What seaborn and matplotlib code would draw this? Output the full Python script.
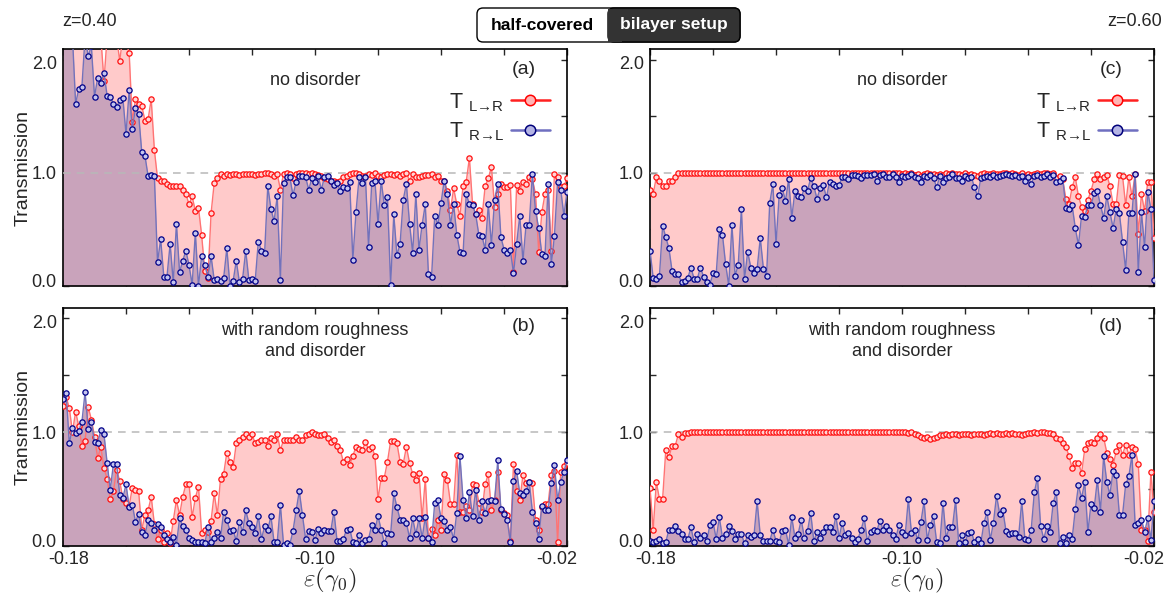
import numpy as np
import matplotlib
matplotlib.use('Agg')
import matplotlib.pyplot as plt
import seaborn as sns
from matplotlib.lines import Line2D
from matplotlib.patches import FancyBboxPatch, Rectangle
from matplotlib.transforms import IdentityTransform, ScaledTranslation

# energy grid, eps in units of gamma0 (161 points from -0.18 to -0.02)
eps = np.linspace(-0.18, -0.02, 161)

# panel (a): z=0.40, no disorder
t_lr_a = [
    2.30, 2.40, 2.30, 2.25, 2.30, 2.35, 2.30, 2.30, 2.40, 2.30,
    2.30, 2.25, 2.20, 1.81, 2.20, 2.30, 2.25, 2.20, 1.99, 2.20,
    2.15, 2.06, 1.45, 1.65, 1.61, 1.59, 1.46, 1.47, 1.65, 1.20,
    0.95, 0.93, 0.93, 0.90, 0.88, 0.88, 0.88, 0.88, 0.85, 0.81,
    0.72, 0.79, 0.66, 0.69, 0.45, 0.13, 0.07, 0.64, 0.91, 0.95,
    0.99, 0.97, 0.99, 0.98, 0.99, 0.99, 0.98, 0.99, 0.99, 0.99,
    0.99, 0.98, 0.99, 0.99, 1.00, 1.00, 0.99, 0.97, 0.99, 0.85,
    0.99, 1.00, 0.99, 0.95, 0.99, 1.00, 1.00, 1.00, 0.99, 1.00,
    0.99, 0.98, 0.97, 0.95, 0.94, 0.93, 0.93, 0.92, 0.93, 0.96,
    0.97, 0.99, 1.00, 1.00, 0.99, 0.97, 0.97, 0.99, 0.98, 1.00,
    0.97, 0.96, 0.98, 0.99, 0.99, 0.98, 0.99, 0.97, 0.99, 1.00,
    0.93, 0.99, 0.96, 0.96, 0.97, 0.98, 0.98, 0.99, 0.96, 0.97,
    0.93, 0.93, 0.84, 0.67, 0.86, 0.72, 0.62, 0.88, 0.92, 1.13,
    0.72, 0.63, 0.67, 0.60, 0.88, 0.95, 1.05, 0.70, 0.81, 0.90,
    0.87, 0.87, 0.89, 0.12, 0.89, 0.84, 0.92, 0.90, 0.96, 0.94,
    0.81, 0.30, 0.65, 0.81, 0.85, 0.31, 0.99, 0.96, 0.87, 0.88,
    0.95]
t_rl_a = [
    2.20, 2.30, 2.15, 2.20, 1.61, 1.74, 1.76, 2.20, 2.03, 2.12,
    1.67, 1.84, 1.79, 1.88, 1.68, 1.67, 1.61, 1.58, 1.64, 1.66,
    1.34, 1.73, 1.39, 1.57, 1.52, 1.18, 1.15, 0.97, 0.98, 0.97,
    0.21, 0.41, 0.08, 0.08, 0.37, 0.03, 0.55, 0.12, 0.22, 0.31,
    0.18, 0.01, 0.47, 0.00, 0.26, 0.18, 0.08, 0.26, 0.05, 0.06,
    0.04, 0.07, 0.33, 0.00, 0.04, 0.22, 0.03, 0.06, 0.31, 0.05,
    0.06, 0.04, 0.39, 0.31, 0.29, 0.88, 0.68, 0.57, 0.79, 0.05,
    0.91, 0.96, 0.96, 0.80, 0.92, 0.97, 0.97, 0.96, 0.85, 0.95,
    0.92, 0.97, 0.85, 0.96, 0.97, 0.93, 0.89, 0.91, 0.84, 0.87,
    0.86, 0.92, 0.23, 0.65, 0.96, 0.91, 0.96, 0.34, 0.91, 0.93,
    0.55, 0.93, 0.71, 0.78, 0.01, 0.63, 0.27, 0.37, 0.76, 0.90,
    0.55, 0.29, 0.81, 0.32, 0.54, 0.72, 0.10, 0.08, 0.62, 0.54,
    0.73, 0.93, 0.81, 0.54, 0.72, 0.45, 0.30, 0.29, 0.81, 0.72,
    0.71, 0.63, 0.45, 0.44, 0.32, 0.72, 0.36, 0.76, 0.90, 0.43,
    0.32, 0.29, 0.32, 0.11, 0.37, 0.62, 0.22, 0.54, 0.54, 0.99,
    0.66, 0.51, 0.28, 0.26, 0.90, 0.19, 0.44, 0.92, 0.85, 0.62,
    0.83]

# panel (b): z=0.40, roughness and disorder
t_lr_b = [
    1.23, 1.31, 1.21, 1.00, 1.18, 1.05, 0.88, 0.92, 1.22, 1.11,
    0.96, 0.77, 0.87, 0.68, 0.59, 0.41, 0.48, 0.67, 0.57, 0.41,
    0.38, 0.35, 0.51, 0.49, 0.48, 0.14, 0.27, 0.31, 0.43, 0.19,
    0.06, 0.14, 0.03, 0.11, 0.02, 0.22, 0.40, 0.27, 0.43, 0.54,
    0.54, 0.25, 0.42, 0.52, 0.11, 0.14, 0.12, 0.22, 0.46, 0.27,
    0.59, 0.63, 0.82, 0.74, 0.69, 0.90, 0.93, 0.96, 0.98, 0.96,
    0.98, 0.90, 0.91, 0.93, 0.93, 0.88, 0.95, 0.93, 0.98, 0.84,
    0.93, 0.93, 0.93, 0.93, 0.96, 0.93, 0.93, 0.97, 0.98, 1.00,
    0.98, 0.97, 0.97, 0.98, 0.95, 0.91, 0.93, 0.88, 0.84, 0.74,
    0.76, 0.71, 0.79, 0.87, 0.85, 0.84, 0.91, 0.85, 0.87, 0.79,
    0.41, 0.60, 0.60, 0.74, 0.92, 0.92, 0.90, 0.74, 0.72, 0.87,
    0.73, 0.63, 0.58, 0.64, 0.24, 0.59, 0.07, 0.15, 0.09, 0.23,
    0.14, 0.63, 0.58, 0.37, 0.37, 0.80, 0.30, 0.30, 0.35, 0.31,
    0.54, 0.53, 0.38, 0.30, 0.54, 0.63, 0.31, 0.40, 0.65, 0.31,
    0.29, 0.27, 0.04, 0.72, 0.48, 0.40, 0.62, 0.55, 0.56, 0.55,
    0.23, 0.14, 0.34, 0.37, 0.37, 0.62, 0.66, 0.03, 0.65, 0.70,
    0.73]
t_rl_b = [
    1.29, 1.34, 0.90, 1.04, 0.99, 1.01, 1.09, 1.35, 1.03, 1.09,
    0.91, 0.90, 1.02, 0.98, 0.73, 0.49, 0.72, 0.72, 0.45, 0.42,
    0.54, 0.34, 0.36, 0.21, 0.28, 0.12, 0.09, 0.23, 0.20, 0.14,
    0.19, 0.16, 0.09, 0.06, 0.03, 0.08, 0.01, 0.24, 0.17, 0.14,
    0.07, 0.05, 0.03, 0.03, 0.03, 0.02, 0.16, 0.03, 0.07, 0.12,
    0.07, 0.30, 0.23, 0.13, 0.14, 0.04, 0.21, 0.12, 0.31, 0.20,
    0.16, 0.11, 0.26, 0.06, 0.17, 0.14, 0.26, 0.03, 0.03, 0.36,
    0.01, 0.02, 0.01, 0.13, 0.31, 0.48, 0.27, 0.06, 0.13, 0.12,
    0.05, 0.15, 0.11, 0.14, 0.13, 0.13, 0.30, 0.04, 0.04, 0.06,
    0.14, 0.15, 0.03, 0.02, 0.09, 0.02, 0.05, 0.06, 0.18, 0.14,
    0.26, 0.14, 0.02, 0.11, 0.10, 0.46, 0.34, 0.23, 0.23, 0.20,
    0.07, 0.24, 0.10, 0.24, 0.07, 0.25, 0.07, 0.03, 0.38, 0.40,
    0.24, 0.22, 0.14, 0.16, 0.06, 0.29, 0.79, 0.40, 0.24, 0.47,
    0.26, 0.49, 0.23, 0.39, 0.29, 0.39, 0.40, 0.39, 0.75, 0.32,
    0.28, 0.23, 0.03, 0.57, 0.66, 0.46, 0.45, 0.48, 0.56, 0.30,
    0.20, 0.06, 0.35, 0.31, 0.31, 0.55, 0.71, 0.40, 0.56, 0.65,
    0.75]

# panel (c): z=0.60, no disorder
t_lr_c = [
    0.85, 0.81, 0.96, 0.93, 0.88, 0.88, 0.93, 0.93, 0.96, 1.00,
    1.00, 1.00, 1.00, 1.00, 1.00, 1.00, 1.00, 1.00, 1.00, 1.00,
    1.00, 1.00, 1.00, 1.00, 1.00, 1.00, 1.00, 1.00, 1.00, 1.00,
    1.00, 1.00, 1.00, 1.00, 1.00, 1.00, 1.00, 1.00, 1.00, 1.00,
    1.00, 1.00, 1.00, 1.00, 1.00, 1.00, 1.00, 1.00, 1.00, 1.00,
    1.00, 1.00, 1.00, 1.00, 1.00, 1.00, 1.00, 1.00, 1.00, 1.00,
    1.00, 1.00, 1.00, 1.00, 1.00, 1.00, 1.00, 1.00, 1.00, 1.00,
    1.00, 1.00, 1.00, 1.00, 1.00, 1.00, 1.00, 1.00, 1.00, 1.00,
    0.99, 1.00, 0.99, 1.00, 0.98, 0.99, 0.97, 0.99, 1.00, 0.99,
    0.99, 0.98, 0.99, 0.98, 1.00, 0.99, 1.00, 0.99, 0.99, 0.98,
    1.00, 0.98, 0.99, 0.98, 0.97, 0.99, 1.00, 0.99, 0.99, 1.00,
    0.99, 0.99, 1.00, 1.00, 0.99, 1.00, 0.99, 0.98, 1.00, 0.97,
    0.99, 0.98, 0.99, 1.00, 0.99, 1.00, 1.00, 0.99, 1.00, 0.95,
    0.97, 0.94, 0.77, 0.72, 0.87, 0.96, 0.79, 0.70, 0.66, 0.76,
    0.84, 0.94, 0.99, 0.94, 0.96, 0.98, 0.88, 0.72, 0.72, 0.98,
    0.97, 0.71, 0.96, 0.79, 0.99, 0.46, 0.81, 0.66, 0.92, 0.92,
    0.42]
t_rl_c = [
    0.31, 0.07, 0.06, 0.09, 0.53, 0.43, 0.33, 0.13, 0.10, 0.10,
    0.03, 0.04, 0.07, 0.16, 0.06, 0.06, 0.16, 0.08, 0.03, 0.01,
    0.11, 0.10, 0.50, 0.45, 0.19, 0.00, 0.54, 0.09, 0.18, 0.68,
    0.06, 0.30, 0.16, 0.11, 0.15, 0.42, 0.15, 0.09, 0.73, 0.90,
    0.37, 0.80, 0.86, 0.75, 0.94, 0.60, 0.84, 0.79, 0.78, 0.86,
    0.84, 0.95, 0.88, 0.77, 0.86, 0.89, 0.78, 0.92, 0.90, 0.88,
    0.89, 0.96, 0.96, 0.94, 0.98, 0.98, 0.97, 0.95, 0.98, 0.98,
    0.98, 0.99, 0.93, 0.98, 0.99, 0.96, 0.96, 0.99, 0.96, 0.92,
    0.97, 0.96, 0.97, 0.99, 0.96, 0.95, 0.92, 0.97, 0.96, 0.98,
    0.95, 0.87, 0.97, 0.92, 0.95, 0.96, 0.99, 0.95, 0.95, 0.93,
    0.97, 0.95, 0.96, 0.87, 0.79, 0.95, 0.96, 0.97, 0.96, 0.98,
    0.96, 0.97, 0.98, 0.99, 0.98, 0.97, 0.98, 0.96, 0.97, 0.93,
    0.96, 0.90, 0.97, 0.98, 0.96, 0.97, 0.99, 0.96, 0.98, 0.92,
    0.93, 0.95, 0.69, 0.68, 0.71, 0.51, 0.36, 0.62, 0.61, 0.71,
    0.71, 0.82, 0.84, 0.71, 0.60, 0.79, 0.65, 0.51, 0.68, 0.64,
    0.39, 0.14, 0.64, 0.64, 0.99, 0.12, 0.65, 0.34, 0.83, 0.68,
    0.05]

# panel (d): z=0.60, roughness and disorder
t_lr_d = [
    0.51, 0.14, 0.56, 0.41, 0.41, 0.84, 0.78, 0.88, 0.88, 0.98,
    0.96, 0.99, 0.99, 1.00, 1.00, 1.00, 1.00, 1.00, 1.00, 1.00,
    1.00, 1.00, 1.00, 1.00, 1.00, 1.00, 1.00, 1.00, 1.00, 1.00,
    1.00, 1.00, 1.00, 1.00, 1.00, 1.00, 1.00, 1.00, 1.00, 1.00,
    1.00, 1.00, 1.00, 1.00, 1.00, 1.00, 1.00, 1.00, 1.00, 1.00,
    1.00, 1.00, 1.00, 1.00, 1.00, 1.00, 1.00, 1.00, 1.00, 1.00,
    1.00, 1.00, 1.00, 1.00, 1.00, 1.00, 1.00, 1.00, 1.00, 1.00,
    1.00, 1.00, 1.00, 1.00, 1.00, 1.00, 1.00, 1.00, 1.00, 1.00,
    1.00, 1.00, 0.99, 1.00, 0.98, 0.97, 0.96, 0.95, 0.96, 0.94,
    0.95, 0.96, 0.97, 0.97, 0.98, 0.97, 0.98, 0.98, 0.97, 0.98,
    0.98, 0.98, 0.97, 0.98, 0.98, 0.98, 0.97, 0.98, 0.99, 0.98,
    0.99, 0.98, 0.98, 0.99, 0.98, 0.99, 0.98, 0.98, 0.97, 0.98,
    0.99, 0.99, 1.00, 0.99, 1.00, 1.00, 0.99, 0.99, 0.98, 0.95,
    0.94, 0.90, 0.87, 0.79, 0.68, 0.73, 0.73, 0.64, 0.85, 0.90,
    0.91, 0.90, 0.95, 0.98, 0.95, 0.82, 0.76, 0.71, 0.83, 0.89,
    0.80, 0.89, 0.80, 0.87, 0.85, 0.72, 0.14, 0.14, 0.04, 0.65,
    0.30]
t_rl_d = [
    0.04, 0.03, 0.04, 0.06, 0.02, 0.03, 0.14, 0.14, 0.17, 0.13,
    0.10, 0.06, 0.06, 0.16, 0.03, 0.10, 0.07, 0.09, 0.04, 0.18,
    0.21, 0.06, 0.25, 0.07, 0.10, 0.17, 0.13, 0.06, 0.10, 0.10,
    0.02, 0.09, 0.08, 0.09, 0.39, 0.09, 0.04, 0.04, 0.04, 0.14,
    0.04, 0.03, 0.13, 0.14, 0.01, 0.25, 0.07, 0.10, 0.23, 0.07,
    0.13, 0.29, 0.04, 0.12, 0.07, 0.12, 0.16, 0.16, 0.12, 0.26,
    0.07, 0.20, 0.09, 0.11, 0.07, 0.03, 0.06, 0.14, 0.24, 0.04,
    0.12, 0.14, 0.13, 0.22, 0.14, 0.17, 0.14, 0.09, 0.06, 0.18,
    0.12, 0.09, 0.41, 0.11, 0.14, 0.05, 0.21, 0.39, 0.05, 0.18,
    0.26, 0.03, 0.02, 0.38, 0.07, 0.16, 0.16, 0.40, 0.02, 0.09,
    0.03, 0.11, 0.12, 0.03, 0.06, 0.02, 0.20, 0.30, 0.05, 0.20,
    0.44, 0.28, 0.31, 0.13, 0.10, 0.11, 0.11, 0.08, 0.39, 0.06,
    0.05, 0.14, 0.47, 0.60, 0.17, 0.06, 0.17, 0.12, 0.38, 0.47,
    0.02, 0.08, 0.02, 0.09, 0.06, 0.32, 0.53, 0.42, 0.56, 0.12,
    0.37, 0.33, 0.58, 0.30, 0.79, 0.56, 0.45, 0.66, 0.62, 0.27,
    0.27, 0.54, 0.61, 0.80, 0.18, 0.20, 0.23, 0.12, 0.24, 0.05,
    0.39]

x_ticks = [-0.18, -0.16, -0.14, -0.12, -0.10, -0.08, -0.06, -0.04, -0.02]
x_ticklabels = ['-0.18', '', '', '', '-0.10', '', '', '', '-0.02']
y_ticks = [0.0, 0.5, 1.0, 1.5, 2.0]
y_ticklabels = ['0.0', '', '1.0', '', '2.0']

sns.set_style('ticks')
plt.rcParams['font.family'] = ['Liberation Sans', 'DejaVu Sans']

RED_FILL = '#ffcaca'
BLUE_FILL = '#c9a3bb'
RED_LINE = '#ff7474'
BLUE_LINE = '#7272bb'

fig = plt.figure(figsize=(11.67, 5.95), dpi=100)


def shift(txt, dx_px, dy_px):
    # nudge a tick label by a few pixels
    off = ScaledTranslation(dx_px / 100, dy_px / 100, fig.dpi_scale_trans)
    txt.set_transform(txt.get_transform() + off)


def draw_panel(ax, t_lr, t_rl, bottom):
    ax.fill_between(eps, 0, t_lr, color=RED_FILL, lw=0, zorder=1)
    ax.fill_between(eps, 0, t_rl, color=BLUE_FILL, lw=0, zorder=2)
    ax.axhline(1.0, color='#b8b8b8', ls=(0, (5, 4)), lw=1.1, zorder=3)
    sns.lineplot(x=eps, y=t_lr, ax=ax, color=RED_LINE, lw=1.0,
                 marker='o', markersize=3.8, markeredgecolor='#ff1010',
                 markerfacecolor='#ffd6d6', markeredgewidth=0.9, zorder=4)
    sns.lineplot(x=eps, y=t_rl, ax=ax, color=BLUE_LINE, lw=1.0,
                 marker='o', markersize=3.8, markeredgecolor='#000088',
                 markerfacecolor='#c4c4ee', markeredgewidth=0.9, zorder=5)
    ax.set_xlim(-0.18, -0.02)
    ax.set_ylim(0, 2.09)
    ax.set_xticks(x_ticks)
    ax.set_yticks(y_ticks)
    ax.set_yticklabels(y_ticklabels)
    if bottom:
        ax.set_xticklabels(x_ticklabels)
    else:
        ax.set_xticklabels([])
    ax.tick_params(direction='in', top=True, right=True, length=4.5,
                   width=1.0, labelsize=13, pad=4.5)
    ax.tick_params(axis='x', pad=3.5)
    for sp in ax.spines.values():
        sp.set_visible(True)
        sp.set_linewidth(1.2)
        sp.set_color('black')
    ax.set_xlabel('')
    ax.set_ylabel('')
    ylab = ax.get_yticklabels()
    shift(ylab[0], 0, 5)
    shift(ylab[-1], 0, -3)
    if bottom:
        xlab = ax.get_xticklabels()
        shift(xlab[0], 6, 0)
        shift(xlab[-1], -10, 0)


ax_a = fig.add_axes([0.054, 0.5198, 0.4319, 0.3973])
ax_c = fig.add_axes([0.557, 0.5198, 0.4319, 0.3973])
ax_b = fig.add_axes([0.054, 0.0829, 0.4319, 0.399])
ax_d = fig.add_axes([0.557, 0.0829, 0.4319, 0.399])

draw_panel(ax_a, t_lr_a, t_rl_a, False)
draw_panel(ax_c, t_lr_c, t_rl_c, False)
draw_panel(ax_b, t_lr_b, t_rl_b, True)
draw_panel(ax_d, t_lr_d, t_rl_d, True)

for ax, tag in [(ax_a, '(a)'), (ax_c, '(c)')]:
    ax.text(0.5, 0.87, 'no disorder', transform=ax.transAxes,
            ha='center', va='center', fontsize=13)
    ax.text(0.915, 0.915, tag, transform=ax.transAxes,
            ha='center', va='center', fontsize=14)
    handles = [
        Line2D([], [], color='#ff2020', lw=1.8, marker='o', ms=7.5,
               mfc='#ffb4b4', mec='#ff0000', mew=1.1),
        Line2D([], [], color='#6f6fc0', lw=1.8, marker='o', ms=7.5,
               mfc='#b4b4e4', mec='#00007a', mew=1.1),
    ]
    labels = [r'T $_{\mathregular{L→R}}$', r'T $_{\mathregular{R→L}}$']
    ax.legend(handles, labels, loc='upper right', bbox_to_anchor=(0.983, 0.86),
              frameon=False, markerfirst=False, fontsize=15.5, handlelength=1.8,
              handletextpad=0.35, labelspacing=0.3, borderaxespad=0)

for ax, tag in [(ax_b, '(b)'), (ax_d, '(d)')]:
    ax.text(0.5, 0.862, 'with random roughness\nand disorder',
            transform=ax.transAxes, ha='center', va='center', fontsize=13,
            linespacing=1.25, multialignment='center')
    ax.text(0.915, 0.925, tag, transform=ax.transAxes,
            ha='center', va='center', fontsize=14)
    ax.set_xlabel(r'$\varepsilon(\gamma_0)$', fontsize=18, math_fontfamily='cm')
    ax.xaxis.set_label_coords(0.53, -0.086)

for ax in [ax_a, ax_b]:
    ax.set_ylabel('Transmission', fontsize=14)
    ax.yaxis.set_label_coords(-0.063, 0.5)

# header
fig.text(90 / 1167, 1 - 22 / 595, 'z=0.40', ha='center', va='center', fontsize=13)
fig.text(1135 / 1167, 1 - 22 / 595, 'z=0.60', ha='center', va='center', fontsize=13)

ident = IdentityTransform()
pill = FancyBboxPatch((477, 553), 263, 34, boxstyle='round,pad=0,rounding_size=6',
                      fc='white', ec='black', lw=1.0, transform=ident)
dark = FancyBboxPatch((608, 553), 132, 34, boxstyle='round,pad=0,rounding_size=6',
                      fc='#333333', ec='black', lw=1.0, transform=ident)
dark_sq = Rectangle((608, 553.5), 14, 33, fc='#333333', ec='none', transform=ident)
fig.add_artist(pill)
fig.add_artist(dark)
fig.add_artist(dark_sq)
fig.text(542.5 / 1167, 1 - 25 / 595, 'half-covered', ha='center', va='center',
         fontsize=12.5, fontweight='bold', color='black')
fig.text(674 / 1167, 1 - 25 / 595, 'bilayer setup', ha='center', va='center',
         fontsize=12.5, fontweight='bold', color='white')

fig.savefig('out.png', dpi=100)
